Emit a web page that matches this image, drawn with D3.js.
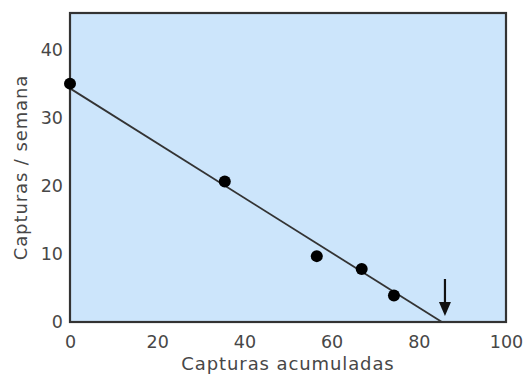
<!DOCTYPE html>
<html><head><meta charset="utf-8">
<script src="https://cdn.jsdelivr.net/npm/d3@7"></script>
<style>body{margin:0;background:#fff}</style>
</head><body>
<script>
const xTicks = [0, 20, 40, 60, 80, 100];
const yTicks = [0, 10, 20, 30, 40];
const capturasAcumuladas = [0, 35.5, 56.6, 66.9, 74.3];
const capturasSemana = [35.1, 20.7, 9.7, 7.8, 3.9];
const fitLine = [[0, 34.4], [85.3, 0]];
const arrowX = 86;
const xLabel = "Capturas acumuladas";
const yLabel = "Capturas / semana";

const W = 526, H = 376;
const m = {left: 70, right: 20, top: 13, bottom: 54};
const svg = d3.select("body").append("svg").attr("width", W).attr("height", H);
const x = d3.scaleLinear().domain([0, 100]).range([m.left, W - m.right]);
const y = d3.scaleLinear().domain([0, 45.5]).range([322, m.top]);
const font = "DejaVu Sans, Verdana, sans-serif";
const textCol = "#474747";

svg.append("rect").attr("x", x(0)).attr("y", y(45.5)).attr("width", x(100) - x(0)).attr("height", y(0) - y(45.5))
  .attr("fill", "#cce5fb").attr("stroke", "#333").attr("stroke-width", 2.2);

const xAxis = svg.append("g").attr("transform", `translate(0,${y(0)})`)
  .call(d3.axisBottom(x).tickValues(xTicks).tickSize(0).tickPadding(14));
const yAxis = svg.append("g").attr("transform", `translate(${x(0)},0)`)
  .call(d3.axisLeft(y).tickValues(yTicks).tickSize(0).tickPadding(7));
[xAxis, yAxis].forEach(g => {
  g.select(".domain").remove();
  g.selectAll("text").attr("font-family", font).attr("font-size", 17.5).attr("fill", textCol);
});

svg.append("line").attr("x1", x(fitLine[0][0])).attr("y1", y(fitLine[0][1]))
  .attr("x2", x(fitLine[1][0])).attr("y2", y(fitLine[1][1]))
  .attr("stroke", "#333").attr("stroke-width", 1.8);

svg.selectAll("circle.pt").data(capturasAcumuladas).enter().append("circle")
  .attr("class", "pt").attr("cx", d => x(d)).attr("cy", (d, i) => y(capturasSemana[i]))
  .attr("r", 6).attr("fill", "#000");

// arrow
const ax = x(arrowX);
svg.append("line").attr("x1", ax).attr("y1", 279).attr("x2", ax).attr("y2", 306)
  .attr("stroke", "#111").attr("stroke-width", 2.2);
svg.append("path").attr("d", `M${ax-6},302 L${ax+6},302 L${ax},316 Z`).attr("fill", "#111");

svg.append("text").attr("x", (x(0) + x(100)) / 2).attr("y", 370).attr("text-anchor", "middle")
  .attr("font-family", font).attr("font-size", 18).attr("letter-spacing", 0.9).attr("fill", textCol).text(xLabel);
svg.append("text").attr("transform", `translate(27,${(y(0) + y(45.5)) / 2}) rotate(-90)`)
  .attr("text-anchor", "middle").attr("font-family", font).attr("font-size", 18).attr("letter-spacing", 0.9).attr("fill", textCol).text(yLabel);
</script>
</body></html>
